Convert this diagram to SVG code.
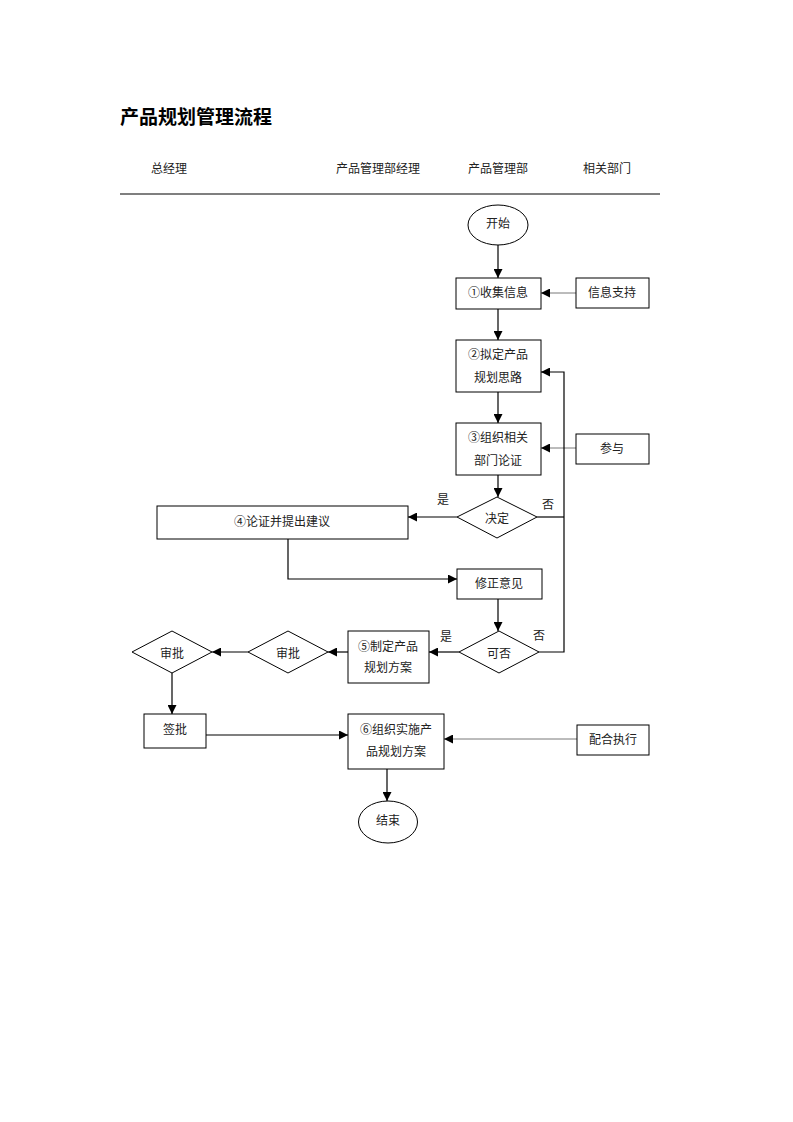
<svg xmlns="http://www.w3.org/2000/svg" width="793" height="1122" viewBox="0 0 793 1122">
<defs>
<style>
.t{font-family:"Liberation Serif","Noto Sans CJK SC",serif;font-size:12px;fill:#222;text-anchor:middle;dominant-baseline:central}
.h{font-family:"Liberation Serif","Noto Sans CJK SC",serif;font-size:12px;fill:#222}
.title{font-family:"Liberation Sans","Noto Sans CJK SC",sans-serif;font-size:19px;font-weight:bold;fill:#000}
.n{fill:#fff;stroke:#000;stroke-width:1}
.c{fill:none;stroke:#000;stroke-width:1.2}
.g{fill:none;stroke:#555;stroke-width:0.8}
</style>
<marker id="a" viewBox="0 0 10 10" refX="10" refY="5" markerWidth="9" markerHeight="9" markerUnits="userSpaceOnUse" orient="auto">
<path d="M0,0 L10,5 L0,10 z" fill="#000"/>
</marker>
</defs>
<rect width="793" height="1122" fill="#fff"/>
<text class="title" x="120" y="124">产品规划管理流程</text>
<g id="header">
<text class="h" x="151" y="173">总经理</text>
<text class="h" x="336" y="173">产品管理部经理</text>
<text class="h" x="468" y="173">产品管理部</text>
<text class="h" x="583" y="173">相关部门</text>
<line x1="120" y1="194" x2="660" y2="194" stroke="#000" stroke-width="1.2"/>
</g>
<g id="connectors">
<line class="c" x1="498" y1="245" x2="498" y2="278" marker-end="url(#a)"/>
<line class="g" x1="576" y1="293" x2="541" y2="293" marker-end="url(#a)"/>
<line class="c" x1="498" y1="309" x2="498" y2="340" marker-end="url(#a)"/>
<line class="c" x1="498" y1="392" x2="498" y2="423" marker-end="url(#a)"/>
<line class="g" x1="576" y1="448" x2="541" y2="448" marker-end="url(#a)"/>
<line class="c" x1="498" y1="475" x2="498" y2="497" marker-end="url(#a)"/>
<line class="c" x1="457" y1="517" x2="408" y2="517" marker-end="url(#a)"/>
<polyline class="c" points="537,517 564,517"/>
<polyline class="c" points="539,652 564,652 564,372 541,372" marker-end="url(#a)"/>
<polyline class="c" points="288,539 288,579 457,579" marker-end="url(#a)"/>
<line class="c" x1="498" y1="599" x2="498" y2="631" marker-end="url(#a)"/>
<line class="c" x1="459" y1="652" x2="429" y2="652" marker-end="url(#a)"/>
<line class="c" x1="348" y1="652" x2="328" y2="652" marker-end="url(#a)"/>
<line class="c" x1="248" y1="652" x2="212" y2="652" marker-end="url(#a)"/>
<line class="c" x1="172" y1="673" x2="172" y2="714" marker-end="url(#a)"/>
<line class="c" x1="206" y1="735" x2="348" y2="735" marker-end="url(#a)"/>
<line class="g" x1="577" y1="739" x2="444" y2="739" marker-end="url(#a)"/>
<line class="c" x1="387" y1="769" x2="387" y2="801" marker-end="url(#a)"/>
<text class="t" x="443" y="500">是</text>
<text class="t" x="548" y="505">否</text>
<text class="t" x="446" y="637">是</text>
<text class="t" x="539" y="636">否</text>
</g>
<g id="start"><ellipse class="n" cx="498" cy="225" rx="30" ry="20"/><text class="t" x="498" y="224">开始</text></g>
<g id="n1"><rect class="n" x="456" y="278" width="85" height="31"/><text class="t" x="498" y="293">①收集信息</text></g>
<g id="info"><rect class="n" x="576" y="278" width="73" height="30"/><text class="t" x="612" y="293">信息支持</text></g>
<g id="n2"><rect class="n" x="456" y="340" width="85" height="52"/><text class="t" x="498" y="355">②拟定产品</text><text class="t" x="498" y="378">规划思路</text></g>
<g id="n3"><rect class="n" x="456" y="423" width="85" height="52"/><text class="t" x="498" y="438">③组织相关</text><text class="t" x="498" y="461">部门论证</text></g>
<g id="join"><rect class="n" x="576" y="434" width="73" height="30"/><text class="t" x="612" y="449">参与</text></g>
<g id="d1"><polygon class="n" points="457,517 497,497 537,517 497,538"/><text class="t" x="497" y="519">决定</text></g>
<g id="n4"><rect class="n" x="157" y="506" width="251" height="33"/><text class="t" x="282" y="522">④论证并提出建议</text></g>
<g id="revise"><rect class="n" x="457" y="569" width="85" height="30"/><text class="t" x="499" y="584">修正意见</text></g>
<g id="d2"><polygon class="n" points="459,652 499,631 539,652 499,673"/><text class="t" x="499" y="654">可否</text></g>
<g id="n5"><rect class="n" x="348" y="631" width="81" height="52"/><text class="t" x="388" y="647">⑤制定产品</text><text class="t" x="388" y="668">规划方案</text></g>
<g id="approve1"><polygon class="n" points="248,652 288,631 328,652 288,673"/><text class="t" x="288" y="654">审批</text></g>
<g id="approve2"><polygon class="n" points="132,652 172,631 212,652 172,673"/><text class="t" x="172" y="654">审批</text></g>
<g id="sign"><rect class="n" x="144" y="714" width="62" height="34"/><text class="t" x="175" y="730">签批</text></g>
<g id="n6"><rect class="n" x="348" y="714" width="96" height="55"/><text class="t" x="396" y="730">⑥组织实施产</text><text class="t" x="396" y="752">品规划方案</text></g>
<g id="coop"><rect class="n" x="577" y="725" width="72" height="30"/><text class="t" x="613" y="740">配合执行</text></g>
<g id="end"><ellipse class="n" cx="388" cy="822" rx="29.5" ry="21"/><text class="t" x="388" y="821">结束</text></g>
</svg>
